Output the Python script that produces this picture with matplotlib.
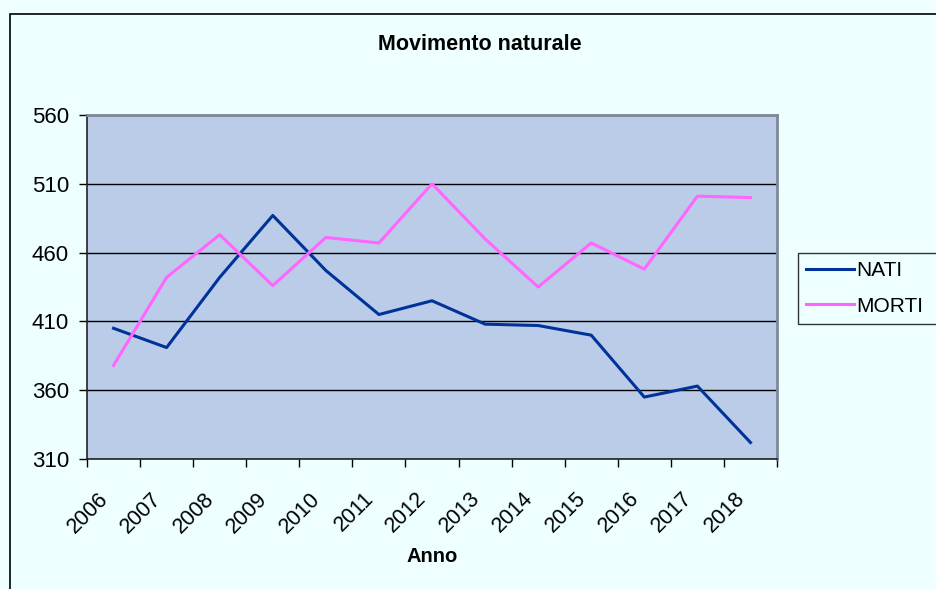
import matplotlib
matplotlib.use("Agg")
import matplotlib.pyplot as plt
from matplotlib.patches import Rectangle
from matplotlib.transforms import ScaledTranslation
import numpy as np

years = ["2006", "2007", "2008", "2009", "2010", "2011", "2012",
         "2013", "2014", "2015", "2016", "2017", "2018"]
nati = [405, 391, 442, 487, 447, 415, 425, 408, 407, 400, 355, 363, 322]
morti = [378, 442, 473, 436, 471, 467, 510, 470, 435, 467, 448, 501, 500]
y_ticks = [310, 360, 410, 460, 510, 560]

plt.rcParams['font.family'] = ['Liberation Sans', 'DejaVu Sans']

W, H = 937, 589
bg = '#EEFFFF'
fig = plt.figure(figsize=(W / 100, H / 100), dpi=100, facecolor=bg)

# outer chart border
fig.patches.append(Rectangle((10 / W, -0.1), 1.2, 1 - 14 / H + 0.1,
                             transform=fig.transFigure, fill=False,
                             edgecolor='black', linewidth=1.2, zorder=0))

ax = fig.add_axes([87 / W, 1 - 459 / H, 690 / W, 344 / H])
ax.set_facecolor('#BBCCE8')

x = np.arange(len(years)) + 0.5
ax.plot(x, nati, color='#003399', linewidth=2.2, label='NATI', zorder=3)
ax.plot(x, morti, color='#FF66FF', linewidth=2.2, label='MORTI', zorder=3)

ax.set_xlim(0, len(years))
ax.set_ylim(310, 560)
ax.set_yticks(y_ticks)
ax.set_yticklabels([str(v) for v in y_ticks], fontsize=16)
ax.yaxis.grid(True, color='black', linewidth=1.0)
ax.set_axisbelow(True)

ax.set_xticks(np.arange(len(years) + 1))
ax.set_xticklabels([])
ax.set_xticks(x, minor=True)
ax.set_xticklabels(years, minor=True, rotation=45, ha='right',
                   rotation_mode='anchor', fontsize=15.5)
ax.tick_params(axis='x', which='minor', length=0, pad=21)
ax.tick_params(axis='x', which='major', length=6, width=1, color='black', direction='out')
ax.tick_params(axis='y', length=6, width=1, color='black', direction='out', pad=7)
shift = ScaledTranslation(-16 / 100, 0, fig.dpi_scale_trans)
for lab in ax.get_xticklabels(minor=True):
    lab.set_transform(lab.get_transform() + shift)

for side in ['left', 'bottom']:
    ax.spines[side].set_color('#222222')
    ax.spines[side].set_linewidth(1.2)
for side in ['top', 'right']:
    ax.spines[side].set_color('#808898')
    ax.spines[side].set_linewidth(2.0)

fig.text(479.5 / W, 1 - 45 / H, 'Movimento naturale', ha='center', va='center',
         fontsize=15.5, fontweight='bold')
fig.text(432 / W, 1 - 556 / H, 'Anno', ha='center', va='center',
         fontsize=14.5, fontweight='bold')

leg = fig.legend(loc='upper left',
                 bbox_to_anchor=(798 / W, 1 - 322 / H, 160 / W, 69 / H),
                 mode='expand', fontsize=15, frameon=True, fancybox=False,
                 handlelength=2.3, handletextpad=0.12, borderpad=0.38,
                 labelspacing=0.8, borderaxespad=0)
leg.get_frame().set_edgecolor('black')
leg.get_frame().set_linewidth(1.0)
leg.get_frame().set_facecolor(bg)

fig.savefig('out.png', dpi=100, facecolor=bg)
